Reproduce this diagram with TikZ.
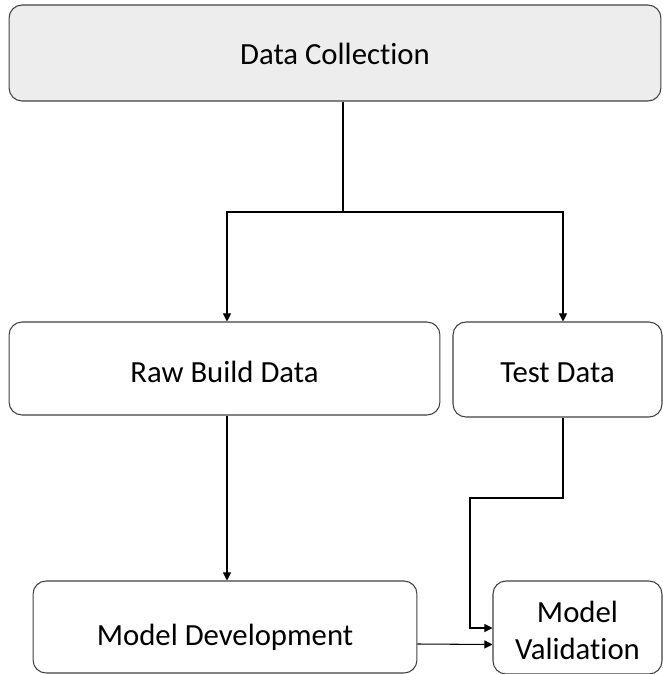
\documentclass[tikz,border=0pt]{standalone}
\usepackage{fontspec}
\setmainfont{Carlito}[Ligatures=NoCommon]
\usetikzlibrary{arrows.meta, positioning, calc}

\begin{document}
\begin{tikzpicture}[>={Triangle[width=4.6pt,length=4.6pt]}, x=0.02cm, y=-0.02cm,
  every node/.style={font=\fontsize{17.5}{21}\selectfont},
  stage/.style={rectangle, rounded corners=0.26cm, draw=black!75, line width=0.6pt, align=center, inner sep=0pt, text depth=0pt},
  link/.style={draw=black, line width=0.6pt}]

\useasboundingbox (0,0) rectangle (663,674);
\clip (0,0) rectangle (663,674);

% Top stage
\node[stage, fill=black!7, minimum width=13.04cm, minimum height=1.92cm, text height=13.6pt] (collect) at (335,53) {Data Collection};

% Data split
\node[stage, minimum width=8.62cm, minimum height=1.86cm, text height=16.4pt] (raw) at (224.5,368.5) {Raw Build Data};
\node[stage, minimum width=4.18cm, minimum height=1.9cm, text height=15.3pt] (test) at (557.5,369.5) {Test Data};

% Modelling
\node[stage, minimum width=7.68cm, minimum height=1.84cm, text height=21.5pt] (dev) at (225,627) {Model Development};
\node[stage, minimum width=3.38cm, minimum height=1.86cm, text height=36.8pt] (valid) at (577.5,627.5) {Model\\Validation};

% Bend points
\coordinate (split) at (343,212);
\coordinate (tbend) at (470,498);
\coordinate (tin) at (470,628);

% Connections (collection to data)
\draw[link] (collect.south -| split) -- (split);
\draw[link, ->] (split) -| ([xshift=0.05cm]raw.north);
\draw[link, ->] (split) -| ([xshift=0.11cm]test.north);

% Connections (data to models)
\draw[link, ->] ([xshift=0.05cm]raw.south) -- ([xshift=0.05cm]raw.south |- dev.north);
\draw[link, ->] ([xshift=0.11cm]test.south) |- (tbend) -- (tin) -- (tin -| valid.west);
\draw[link, ->] ([yshift=-0.34cm]dev.east) -- ([yshift=-0.34cm]valid.west);

\end{tikzpicture}
\end{document}
